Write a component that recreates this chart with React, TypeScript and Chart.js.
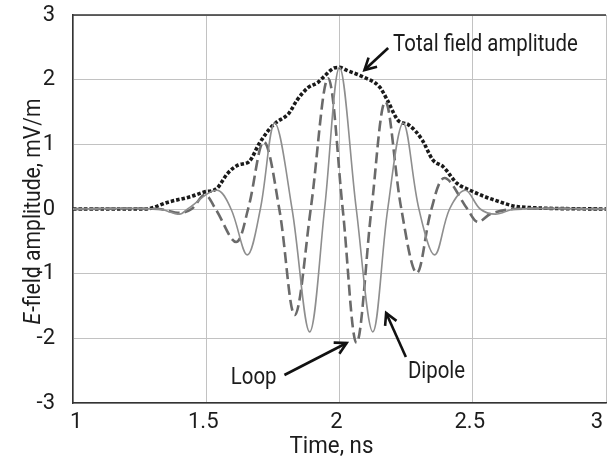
import React, { useEffect, useRef } from 'react';
import { Chart, registerables } from 'chart.js';

Chart.register(...registerables);

// ---------- data (time in ns, field in mV/m) ----------
const dipoleTime = [1.0, 1.32, 1.40, 1.43, 1.54, 1.593, 1.654, 1.703, 1.757, 1.822, 1.888, 1.944, 2.0, 2.063, 2.125, 2.181, 2.239, 2.298, 2.357, 2.413, 2.472, 2.528, 2.585, 2.66, 3.0];
const dipoleField = [0, 0, -0.08, 0, 0.29, 0, -0.71, 0, 1.33, 0, -1.9, 0, 2.19, 0, -1.9, 0, 1.33, 0, -0.71, 0, 0.29, 0, -0.08, 0, 0];

const loopTime = [1.0, 1.32, 1.40, 1.445, 1.495, 1.535, 1.612, 1.657, 1.716, 1.774, 1.832, 1.892, 1.957, 2.012, 2.064, 2.12, 2.172, 2.232, 2.29, 2.345, 2.394, 2.48, 2.518, 2.57, 2.66, 3.0];
const loopField = [0, 0, -0.06, 0, 0.22, 0, -0.51, 0, 1.04, 0, -1.64, 0, 2.02, 0, -2.07, 0, 1.66, 0, -0.99, 0, 0.48, 0, -0.2, -0.07, 0, 0];

const totalTime = [1.0, 1.27, 1.36, 1.44, 1.49, 1.54, 1.58, 1.62, 1.66, 1.70, 1.74, 1.76, 1.81, 1.84, 1.88, 1.92, 1.94, 1.98, 2.0, 2.03, 2.09, 2.15, 2.18, 2.22, 2.26, 2.31, 2.35, 2.39, 2.44, 2.49, 2.54, 2.58, 2.68, 3.0];
const totalField = [0, 0, 0.11, 0.19, 0.26, 0.32, 0.55, 0.68, 0.73, 1.02, 1.25, 1.33, 1.48, 1.68, 1.87, 1.96, 2.04, 2.18, 2.19, 2.14, 2.04, 1.89, 1.68, 1.37, 1.3, 1.07, 0.76, 0.65, 0.4, 0.29, 0.2, 0.14, 0.03, 0];

const xTickValues = [1, 1.5, 2, 2.5, 3];
const yTickValues = [-3, -2, -1, 0, 1, 2, 3];

const seriesNames = ['Dipole', 'Loop', 'Total field amplitude'];
const xTitle = 'Time, ns';
const yTitleItalic = 'E';
const yTitleRest = '-field amplitude, mV/m';

// annotation labels and arrows, in data coordinates (time, field)
const annoLabels = ['Total field amplitude', 'Loop', 'Dipole'];
const annoTextAt = [[2.201, 2.536], [1.678, -2.613], [2.364, -2.528]];
const annoTextAlign = ['left', 'center', 'center'];
const annoArrowFrom = [[2.1826, 2.49], [1.7933, -2.567], [2.249, -2.289]];
const annoArrowTo = [[2.0936, 2.149], [2.0269, -2.072], [2.175, -1.608]];

const FONT = "Roboto, 'Liberation Sans', 'DejaVu Sans', sans-serif";
const TEXT = '#1c1c1c';
const SQUEEZE = 0.85;

const toPoints = (xs: number[], ys: number[]) => xs.map((x, i) => ({ x, y: ys[i] }));

function drawSqueezed(ctx: any, text: string, x: number, y: number, align: string, sx: number) {
  ctx.save();
  ctx.translate(x, y);
  ctx.scale(sx, 1);
  ctx.textAlign = align;
  ctx.fillText(text, 0, 0);
  ctx.restore();
}

const overlayPlugin = {
  id: 'overlay',
  afterDraw(chart: any) {
    const { ctx, chartArea: a, scales } = chart;
    const xs = scales.x;
    const ys = scales.y;
    ctx.save();
    // top frame line
    ctx.strokeStyle = '#333';
    ctx.lineWidth = 1.5;
    ctx.beginPath();
    ctx.moveTo(a.left, a.top);
    ctx.lineTo(a.right, a.top);
    ctx.stroke();

    ctx.fillStyle = TEXT;
    ctx.textBaseline = 'middle';

    // x-axis title
    ctx.font = `23px ${FONT}`;
    drawSqueezed(ctx, xTitle, (a.left + a.right) / 2 - 8, 447, 'center', 0.97);

    // annotations
    ctx.strokeStyle = '#111';
    ctx.font = `24px ${FONT}`;
    annoLabels.forEach((label, i) => {
      const tx = xs.getPixelForValue(annoTextAt[i][0]);
      const ty = ys.getPixelForValue(annoTextAt[i][1]);
      drawSqueezed(ctx, label, tx, ty, annoTextAlign[i], SQUEEZE);
      const x0 = xs.getPixelForValue(annoArrowFrom[i][0]);
      const y0 = ys.getPixelForValue(annoArrowFrom[i][1]);
      const x1 = xs.getPixelForValue(annoArrowTo[i][0]);
      const y1 = ys.getPixelForValue(annoArrowTo[i][1]);
      ctx.lineWidth = 2.6;
      ctx.lineCap = 'butt';
      ctx.beginPath();
      ctx.moveTo(x0, y0);
      ctx.lineTo(x1, y1);
      ctx.stroke();
      const ang = Math.atan2(y1 - y0, x1 - x0);
      const hl = 13;
      const spread = 0.5;
      ctx.lineJoin = 'miter';
      ctx.beginPath();
      ctx.moveTo(x1 - hl * Math.cos(ang - spread), y1 - hl * Math.sin(ang - spread));
      ctx.lineTo(x1, y1);
      ctx.lineTo(x1 - hl * Math.cos(ang + spread), y1 - hl * Math.sin(ang + spread));
      ctx.stroke();
    });

    // y-axis title with italic E
    ctx.translate(34, (a.top + a.bottom) / 2 + 3);
    ctx.rotate(-Math.PI / 2);
    ctx.scale(0.88, 1);
    ctx.textAlign = 'left';
    const italic = `italic 24px ${FONT}`;
    const normal = `24px ${FONT}`;
    ctx.font = italic;
    const w1 = ctx.measureText(yTitleItalic).width;
    ctx.font = normal;
    const w2 = ctx.measureText(yTitleRest).width;
    const start = -(w1 + w2) / 2;
    ctx.font = italic;
    ctx.fillText(yTitleItalic, start, 0);
    ctx.font = normal;
    ctx.fillText(yTitleRest, start + w1 + 1, 0);
    ctx.restore();
  },
};

export default function App() {
  const ref = useRef<HTMLCanvasElement | null>(null);

  useEffect(() => {
    if (!ref.current) return;
    const chart = new Chart(ref.current, {
      type: 'line',
      data: {
        datasets: [
          {
            label: seriesNames[0],
            data: toPoints(dipoleTime, dipoleField),
            borderColor: '#8e8e8e',
            borderWidth: 1.6,
            pointRadius: 0,
            tension: 0.35,
            fill: false,
          },
          {
            label: seriesNames[1],
            data: toPoints(loopTime, loopField),
            borderColor: '#6a6a6a',
            borderWidth: 2.6,
            borderDash: [11, 5],
            pointRadius: 0,
            tension: 0.35,
            fill: false,
          },
          {
            label: seriesNames[2],
            data: toPoints(totalTime, totalField),
            borderColor: '#1a1a1a',
            borderWidth: 3.6,
            borderDash: [3.5, 2],
            borderCapStyle: 'butt',
            pointRadius: 0,
            cubicInterpolationMode: 'monotone',
            fill: false,
          },
        ],
      },
      options: {
        responsive: false,
        animation: false,
        layout: { padding: { left: 0, right: 0, top: 15, bottom: 0 } },
        plugins: {
          legend: { display: false },
          tooltip: { enabled: false },
        },
        scales: {
          x: {
            type: 'linear',
            min: 1,
            max: 3,
            afterBuildTicks: (scale: any) => {
              scale.ticks = xTickValues.map((v) => ({ value: v }));
            },
            afterFit: (scale: any) => {
              scale.height = 58;
            },
            ticks: {
              align: 'inner',
              labelOffset: -3,
              padding: 6,
              color: TEXT,
              font: { family: FONT, size: 22 },
              maxRotation: 0,
              callback: (v: any) => String(v),
            },
            grid: { color: '#c2c2c2', lineWidth: 1, drawTicks: false },
            border: { display: true, color: '#333', width: 1.5 },
            title: { display: false },
          },
          y: {
            type: 'linear',
            min: -3,
            max: 3,
            afterBuildTicks: (scale: any) => {
              scale.ticks = yTickValues.map((v) => ({ value: v }));
            },
            afterFit: (scale: any) => {
              scale.width = 73;
              scale.paddingTop = 0;
              scale.paddingBottom = 0;
            },
            ticks: {
              padding: 18,
              color: TEXT,
              font: { family: FONT, size: 22 },
              callback: (v: any) => String(v),
            },
            grid: { color: '#c2c2c2', lineWidth: 1, drawTicks: false },
            border: { display: true, color: '#333', width: 1.5 },
          },
        },
      },
      plugins: [overlayPlugin],
    } as any);
    return () => chart.destroy();
  }, []);

  return (
    <div style={{ position: 'absolute', left: 0, top: 0, width: 612, height: 461, background: '#fff' }}>
      <canvas ref={ref} width={612} height={461} style={{ display: 'block' }} />
    </div>
  );
}
